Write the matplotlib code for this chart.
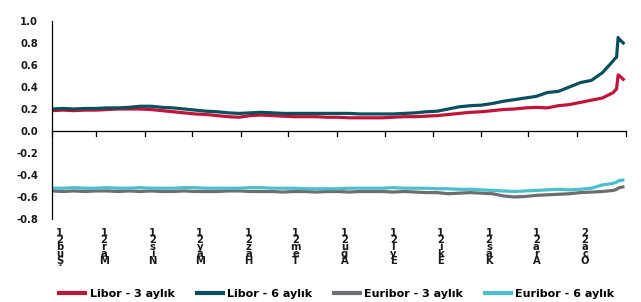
import matplotlib
matplotlib.use("Agg")
import matplotlib.pyplot as plt
import matplotlib.transforms as mtransforms
import pandas as pd

# weekly observations (Mondays) plus last daily observations
dates = list(pd.date_range("2021-02-01", "2022-01-24", freq="7D").strftime("%Y-%m-%d")) + \
    ["2022-01-25", "2022-01-26", "2022-01-27", "2022-01-28", "2022-01-31"]

libor_3m = [0.185, 0.19, 0.185, 0.19, 0.19, 0.195, 0.20, 0.20, 0.20, 0.195,
            0.185, 0.175, 0.165, 0.155, 0.15, 0.14, 0.13, 0.125, 0.14, 0.145,
            0.14, 0.135, 0.13, 0.13, 0.13, 0.125, 0.125, 0.12, 0.12, 0.12,
            0.12, 0.125, 0.13, 0.13, 0.135, 0.14, 0.15, 0.16, 0.17, 0.175,
            0.185, 0.195, 0.20, 0.21, 0.215, 0.21, 0.23, 0.24, 0.26, 0.28,
            0.30, 0.35, 0.37, 0.38, 0.51, 0.50, 0.46]
libor_6m = [0.20, 0.205, 0.20, 0.205, 0.205, 0.21, 0.21, 0.215, 0.225, 0.225,
            0.215, 0.21, 0.20, 0.19, 0.18, 0.175, 0.165, 0.16, 0.165, 0.17,
            0.165, 0.16, 0.16, 0.16, 0.16, 0.16, 0.16, 0.16, 0.155, 0.155,
            0.155, 0.155, 0.16, 0.165, 0.175, 0.18, 0.20, 0.22, 0.23, 0.235,
            0.25, 0.27, 0.285, 0.30, 0.315, 0.35, 0.36, 0.40, 0.44, 0.46,
            0.53, 0.64, 0.66, 0.67, 0.85, 0.83, 0.79]
euribor_3m = [-0.545, -0.55, -0.545, -0.55, -0.545, -0.545, -0.55, -0.545, -0.55, -0.545,
              -0.55, -0.55, -0.545, -0.55, -0.55, -0.55, -0.545, -0.545, -0.55, -0.55,
              -0.55, -0.555, -0.55, -0.55, -0.555, -0.55, -0.55, -0.555, -0.55, -0.55,
              -0.55, -0.555, -0.55, -0.555, -0.56, -0.56, -0.57, -0.565, -0.56, -0.565,
              -0.57, -0.59, -0.60, -0.595, -0.585, -0.58, -0.575, -0.57, -0.56, -0.555,
              -0.55, -0.54, -0.535, -0.53, -0.52, -0.515, -0.505]
euribor_6m = [-0.52, -0.52, -0.515, -0.52, -0.52, -0.515, -0.52, -0.52, -0.515, -0.52,
              -0.52, -0.52, -0.515, -0.515, -0.52, -0.52, -0.52, -0.52, -0.515, -0.515,
              -0.52, -0.52, -0.52, -0.525, -0.525, -0.525, -0.525, -0.52, -0.52, -0.52,
              -0.52, -0.515, -0.52, -0.52, -0.52, -0.525, -0.525, -0.53, -0.53, -0.535,
              -0.54, -0.545, -0.55, -0.545, -0.54, -0.535, -0.53, -0.535, -0.53, -0.52,
              -0.49, -0.475, -0.47, -0.465, -0.455, -0.45, -0.445]

series_names = ["Libor - 3 aylık", "Libor - 6 aylık", "Euribor - 3 aylık", "Euribor - 6 aylık"]
series_colors = ["#C0143C", "#0B4F5C", "#6D6E71", "#4BC0CC"]

tick_dates = ["2021-02-01", "2021-03-01", "2021-04-01", "2021-05-01", "2021-06-01",
              "2021-07-01", "2021-08-01", "2021-09-01", "2021-10-01", "2021-11-01",
              "2021-12-01", "2022-01-01", "2022-02-01"]
tick_labels = ["Şub21", "Mar21", "Nis21", "May21", "Haz21", "Tem21",
               "Ağu21", "Eyl21", "Eki21", "Kas21", "Ara21", "Oca22"]
y_ticks = [-0.8, -0.6, -0.4, -0.2, 0.0, 0.2, 0.4, 0.6, 0.8, 1.0]

FONT = "DejaVu Sans"
fig = plt.figure(figsize=(6.41, 3.02), dpi=100)
ax = fig.add_axes([0.0811, 0.2748, 0.8955, 0.6557])

x = pd.to_datetime(dates)
for vals, name, col in zip([libor_3m, libor_6m, euribor_3m, euribor_6m], series_names, series_colors):
    ax.plot(x, vals, color=col, lw=2.3, label=name, solid_capstyle="butt", solid_joinstyle="round")

ax.set_ylim(-0.8, 1.0)
ax.set_xlim(pd.Timestamp(tick_dates[0]), pd.Timestamp(tick_dates[-1]))
ax.set_yticks(y_ticks)
ax.set_yticklabels([f"{v:.1f}" for v in y_ticks], fontfamily=FONT, fontweight="bold",
                   fontsize=7.2, color="#1a1a1a")
ax.tick_params(axis="y", length=0, pad=10)

for s in ["top", "right", "bottom"]:
    ax.spines[s].set_visible(False)
ax.spines["left"].set_color("#000000")
ax.spines["left"].set_linewidth(0.9)

# horizontal axis at zero with monthly tick marks
ax.axhline(0, color="#000000", lw=0.9, zorder=1)
tick_x = pd.to_datetime(tick_dates)
ax.set_xticks(tick_x)
ax.set_xticklabels([])
ax.tick_params(axis="x", length=0)
for t in tick_x:
    ax.plot([t, t], [0, -0.045], color="#000000", lw=0.9, zorder=1, clip_on=False)

# stacked (vertical) month labels
trans_lab = mtransforms.blended_transform_factory(ax.transData, ax.transAxes)
for t, lab in zip(tick_x[:-1], tick_labels):
    ax.text(t + pd.Timedelta(days=5), -0.045, "\n".join(reversed(lab)), transform=trans_lab,
            ha="center", va="top", fontsize=7.2, fontfamily=FONT, fontweight="bold",
            color="#1a1a1a", linespacing=0.62)

leg = fig.legend(loc="center", bbox_to_anchor=(0.524, 0.026), ncol=4, frameon=False,
                 prop={"family": FONT, "weight": "bold", "size": 8},
                 handlelength=2.7, handletextpad=0.2, columnspacing=1.8)
for h in leg.legend_handles:
    h.set_linewidth(3)

fig.savefig("out.png", dpi=100)
